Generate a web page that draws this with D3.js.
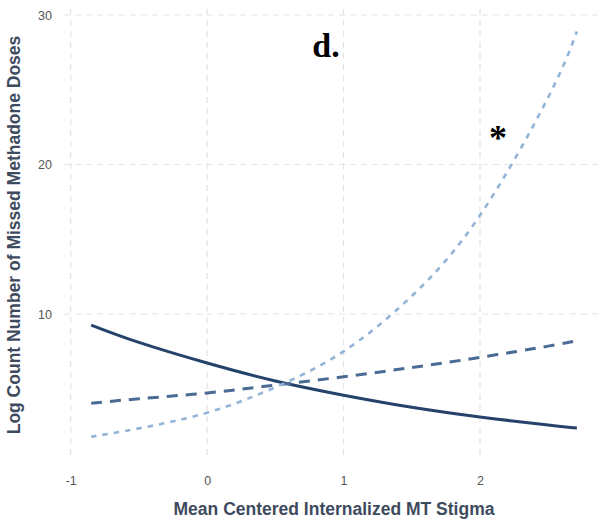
<!DOCTYPE html>
<html>
<head>
<meta charset="utf-8">
<script src="https://cdn.jsdelivr.net/npm/d3@7"></script>
<style>
  body { margin: 0; background: #fff; }
  svg { display: block; }
</style>
</head>
<body>
<svg id="chart"></svg>
<script>
// Dimensions for the chart
const width = 600;
const height = 519;

// Data
const stigma = [-0.85, -0.5, 0, 0.5, 1, 1.5, 2, 2.5, 2.71];
const lowSeries = [9.26, 8.10, 6.72, 5.52, 4.57, 3.76, 3.11, 2.57, 2.37];
const midSeries = [4.03, 4.33, 4.72, 5.25, 5.8, 6.42, 7.1, 7.85, 8.21];
const highSeries = [1.79, 2.35, 3.4, 5.1, 7.5, 11.2, 16.6, 24.5, 28.9];
const xTicks = [-1, 0, 1, 2];
const yTicks = [10, 20, 30];

const series = [
  { values: lowSeries, color: "#24426a", width: 3, dash: null },
  { values: midSeries, color: "#4a6b93", width: 3, dash: "11,8" },
  { values: highSeries, color: "#92b4d6", width: 2.6, dash: "5.5,6" }
];

const x = d3.scaleLinear().domain([-1, 2]).range([70.7, 480]);
const y = d3.scaleLinear().domain([10, 30]).range([314, 15]);

const svg = d3.select("#chart")
  .attr("width", width)
  .attr("height", height);

// grid
const grid = svg.append("g")
  .attr("stroke", "#e3e3e3")
  .attr("stroke-width", 1.2)
  .attr("stroke-dasharray", "6,5");

grid.selectAll(".vgrid")
  .data(xTicks)
  .enter().append("line")
  .attr("x1", d => x(d)).attr("x2", d => x(d))
  .attr("y1", 9).attr("y2", 457);

grid.selectAll(".hgrid")
  .data(yTicks)
  .enter().append("line")
  .attr("x1", 64).attr("x2", 600)
  .attr("y1", d => y(d)).attr("y2", d => y(d));

// axes (text only, no lines)
const xAxis = svg.append("g")
  .attr("transform", "translate(0,473)")
  .call(d3.axisBottom(x).tickValues(xTicks).tickSize(0).tickFormat(d => String(d)));
xAxis.select(".domain").remove();
xAxis.selectAll("text")
  .attr("fill", "#555")
  .style("font", "12.5px 'Liberation Sans', Arial, sans-serif");

const yAxis = svg.append("g")
  .attr("transform", "translate(55,0)")
  .call(d3.axisLeft(y).tickValues(yTicks).tickSize(0));
yAxis.select(".domain").remove();
yAxis.selectAll("text")
  .attr("fill", "#555")
  .style("font", "12.5px 'Liberation Sans', Arial, sans-serif");

// lines
const line = d3.line()
  .x((d, i) => x(stigma[i]))
  .y(d => y(d))
  .curve(d3.curveNatural);

svg.selectAll(".series")
  .data(series)
  .enter().append("path")
  .attr("class", "series")
  .attr("d", d => line(d.values))
  .attr("fill", "none")
  .attr("stroke", d => d.color)
  .attr("stroke-width", d => d.width)
  .attr("stroke-dasharray", d => d.dash);

// axis titles
svg.append("text")
  .attr("x", 334)
  .attr("y", 515)
  .attr("text-anchor", "middle")
  .attr("fill", "#3e4b5e")
  .style("font", "bold 17.5px 'Liberation Sans', Arial, sans-serif")
  .text("Mean Centered Internalized MT Stigma");

svg.append("text")
  .attr("transform", "translate(20,235) rotate(-90)")
  .attr("text-anchor", "middle")
  .attr("fill", "#3e4b5e")
  .style("font", "bold 17.5px 'Liberation Sans', Arial, sans-serif")
  .text("Log Count Number of Missed Methadone Doses");

// panel label and significance marker
svg.append("text")
  .attr("x", 326)
  .attr("y", 57)
  .attr("text-anchor", "middle")
  .attr("fill", "#000")
  .style("font", "bold 34px 'Liberation Serif', 'Times New Roman', serif")
  .text("d.");

svg.append("text")
  .attr("x", 498)
  .attr("y", 150)
  .attr("text-anchor", "middle")
  .attr("fill", "#000")
  .style("font", "bold 36px 'Liberation Serif', 'Times New Roman', serif")
  .text("*");
</script>
</body>
</html>
